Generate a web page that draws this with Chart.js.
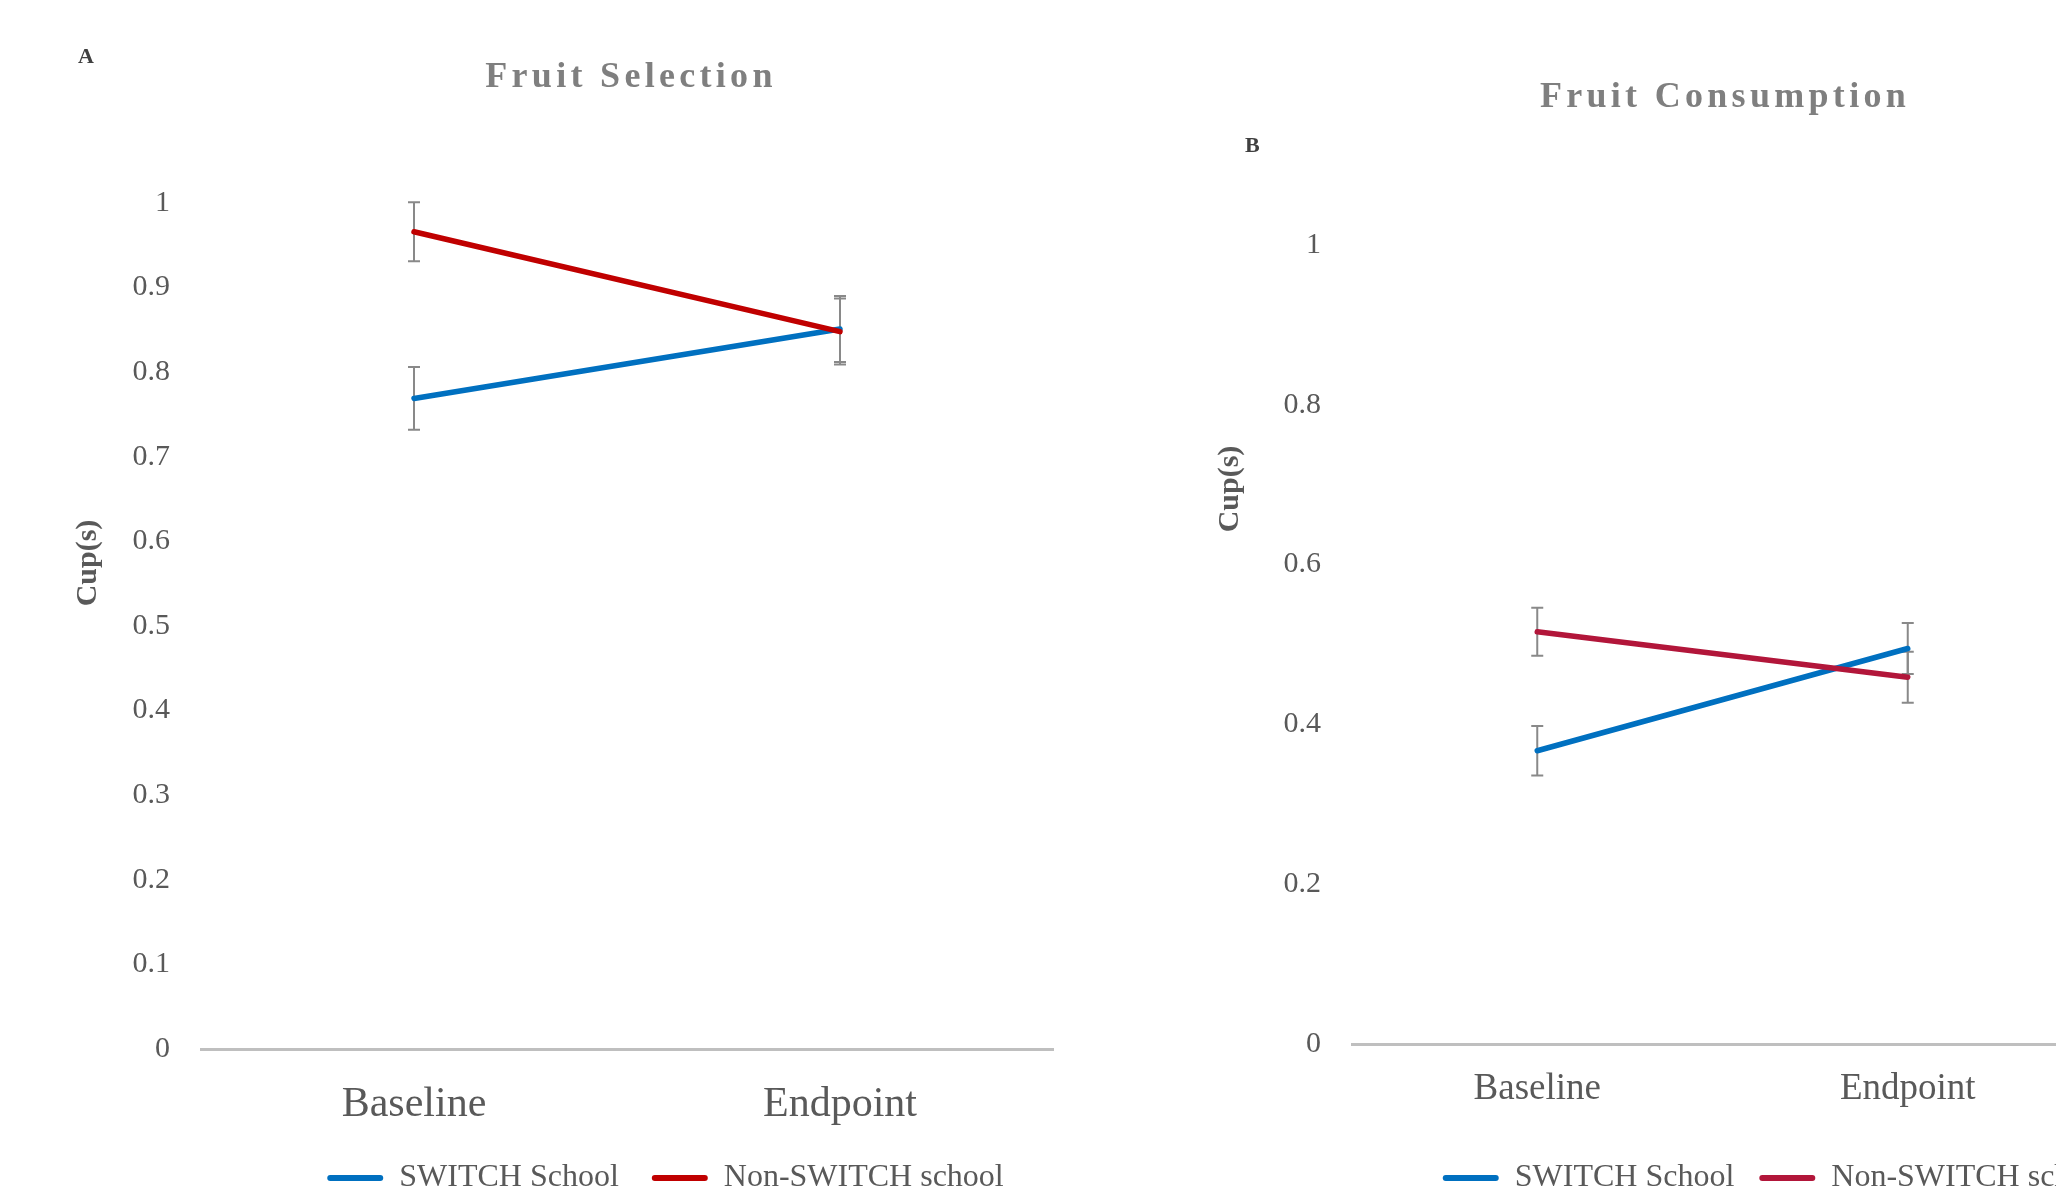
<!DOCTYPE html>
<html>
<head>
<meta charset="utf-8">
<script src="https://cdn.jsdelivr.net/npm/chart.js@4.4.0/dist/chart.umd.min.js"></script>
<style>
  html, body { margin: 0; padding: 0; background: #fff; overflow: hidden; width: 2056px; height: 1197px; }
  canvas { position: absolute; top: 0; }
  #selection { left: 0; }
  #consumption { left: 1180px; }
</style>
</head>
<body>
<canvas id="selection" width="1331" height="1220"></canvas>
<canvas id="consumption" width="1194" height="1220"></canvas>
<script>
// data
const categories = ['Baseline', 'Endpoint'];
const seriesNames = ['SWITCH School', 'Non-SWITCH school'];

const selectionSwitch = [0.769, 0.851];
const selectionNonSwitch = [0.966, 0.848];
const selectionSwitchErr = [0.037, 0.039];
const selectionNonSwitchErr = [0.035, 0.039];

const consumptionSwitch = [0.367, 0.495];
const consumptionNonSwitch = [0.516, 0.459];
const consumptionSwitchErr = [0.031, 0.032];
const consumptionNonSwitchErr = [0.030, 0.032];

const serif = '"Liberation Serif", "Times New Roman", serif';
const blue = '#0070c0';

// error bars, drawn under the lines
const errorBars = {
    id: 'errorBars',
    beforeDatasetsDraw(chart) {
        const ctx = chart.ctx;
        const x = chart.scales.x, y = chart.scales.y;
        ctx.save();
        ctx.strokeStyle = '#898989';
        ctx.lineWidth = 2;
        chart.data.datasets.forEach(ds => {
            ds.data.forEach((v, i) => {
                const px = x.getPixelForValue(i);
                const top = y.getPixelForValue(v + ds.errors[i]);
                const bot = y.getPixelForValue(v - ds.errors[i]);
                ctx.beginPath();
                ctx.moveTo(px, top); ctx.lineTo(px, bot);
                ctx.moveTo(px - 6, top); ctx.lineTo(px + 6, top);
                ctx.moveTo(px - 6, bot); ctx.lineTo(px + 6, bot);
                ctx.stroke();
            });
        });
        ctx.restore();
    }
};

// panel letter, spaced title and rotated axis title
const decor = texts => ({
    id: 'decor',
    afterDraw(chart) {
        const ctx = chart.ctx;
        texts.forEach(t => {
            ctx.save();
            ctx.font = t.font;
            ctx.fillStyle = t.color;
            ctx.letterSpacing = t.spacing || '0px';
            ctx.textAlign = 'left';
            ctx.textBaseline = t.rotate ? 'middle' : 'alphabetic';
            ctx.translate(t.x, t.y);
            if (t.rotate) ctx.rotate(-Math.PI / 2);
            const w = ctx.measureText(t.text).width;
            ctx.fillText(t.text, t.center ? -w / 2 : 0, 0);
            ctx.restore();
        });
    }
});

const legendLabels = chart => Chart.defaults.plugins.legend.labels.generateLabels(chart)
    .sort((a, b) => a.datasetIndex - b.datasetIndex)
    .map(l => ({ ...l, fillStyle: l.strokeStyle, lineWidth: 0, borderRadius: 3 }));

const buildChart = (id, s) => new Chart(document.getElementById(id), {
    type: 'line',
    data: {
        labels: categories,
        datasets: [
            { label: seriesNames[0], data: s.switchVals, errors: s.switchErr, borderColor: blue, backgroundColor: blue,
              borderWidth: 5.5, pointRadius: 0, borderCapStyle: 'round', order: 1, yAxisID: 'y' },
            { label: seriesNames[1], data: s.nonVals, errors: s.nonErr, borderColor: s.red, backgroundColor: s.red,
              borderWidth: 5.5, pointRadius: 0, borderCapStyle: 'round', order: 0, yAxisID: 'y' }
        ]
    },
    options: {
        responsive: false,
        animation: false,
        events: [],
        layout: { padding: { top: s.top, bottom: s.bottom, left: 0, right: 0 } },
        scales: {
            x: {
                offset: true,
                grid: { display: false, drawTicks: false },
                border: { color: '#bfbfbf', width: 3 },
                ticks: { color: '#595959', font: { family: serif, size: s.xFont }, padding: s.xPad },
                afterFit: sc => { sc.height = s.xHeight; }
            },
            y: {
                min: 0, max: 1,
                grid: { display: false, drawTicks: false },
                border: { display: false },
                ticks: {
                    stepSize: s.step, color: '#595959', font: { family: serif, size: 30 }, padding: s.yPad,
                    callback: v => String(Number(v.toFixed(1)))
                },
                afterFit: sc => { sc.width = s.yWidth; }
            },
            filler: {
                type: 'linear', position: 'right', display: true,
                grid: { display: false, drawTicks: false }, border: { display: false }, ticks: { display: false },
                afterFit: sc => { sc.width = s.fillWidth; }
            }
        },
        plugins: {
            tooltip: { enabled: false },
            legend: {
                position: 'bottom',
                labels: {
                    color: '#595959',
                    font: { family: serif, size: 32 },
                    boxWidth: 56, boxHeight: 6,
                    useBorderRadius: true,
                    padding: s.legendPad,
                    generateLabels: legendLabels
                }
            }
        }
    },
    plugins: [errorBars, decor(s.texts)]
});

buildChart('selection', {
    switchVals: selectionSwitch, nonVals: selectionNonSwitch,
    switchErr: selectionSwitchErr, nonErr: selectionNonSwitchErr,
    red: '#c00000', step: 0.1,
    top: 203, bottom: 16, xHeight: 80, xFont: 42, xPad: 31,
    yWidth: 201, yPad: 31, fillWidth: 278, legendPad: 33,
    texts: [
        { text: 'A', x: 78, y: 63, font: 'bold 22px ' + serif, color: '#404040' },
        { text: 'Fruit Selection', x: 631, y: 87, center: true, spacing: '4.3px', font: 'bold 36px ' + serif, color: '#7f7f7f' },
        { text: 'Cup(s)', x: 88, y: 563, center: true, rotate: true, font: 'bold 30px ' + serif, color: '#595959' }
    ]
});

buildChart('consumption', {
    switchVals: consumptionSwitch, nonVals: consumptionNonSwitch,
    switchErr: consumptionSwitchErr, nonErr: consumptionNonSwitchErr,
    red: '#b2163a', step: 0.2,
    top: 245, bottom: 16, xHeight: 93, xFont: 37, xPad: 23,
    yWidth: 172, yPad: 31, fillWidth: 281, legendPad: 25,
    texts: [
        { text: 'B', x: 65, y: 152, font: 'bold 22px ' + serif, color: '#404040' },
        { text: 'Fruit Consumption', x: 545, y: 107, center: true, spacing: '4.3px', font: 'bold 36px ' + serif, color: '#7f7f7f' },
        { text: 'Cup(s)', x: 50, y: 489, center: true, rotate: true, font: 'bold 30px ' + serif, color: '#595959' }
    ]
});
</script>
</body>
</html>
